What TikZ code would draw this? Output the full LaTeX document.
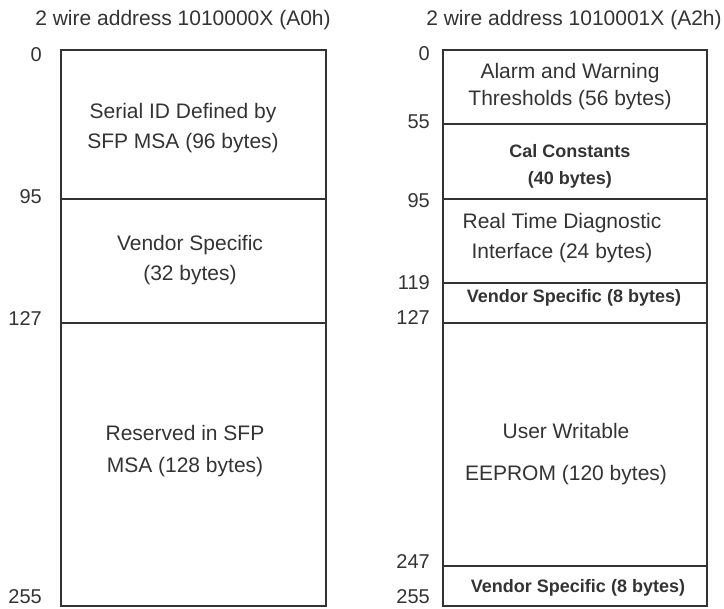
\documentclass[tikz,border=0pt]{standalone}
\usepackage{fontspec}
\setmainfont{Liberation Sans}
\definecolor{inkgray}{HTML}{333333}
\definecolor{txtgray}{HTML}{333333}
\begin{document}
\begin{tikzpicture}[x=1pt, y=-1pt, line width=1.8pt, color=inkgray, text=txtgray,
  area text/.style={align=center,font=\fontsize{21}{30}\selectfont},
  bold text/.style={align=center,font=\fontsize{18}{27}\selectfont\bfseries},
  offset/.style={anchor=east,font=\fontsize{20}{24}\selectfont},
  title/.style={font=\fontsize{21}{25}\selectfont}]
\useasboundingbox (0,0) rectangle (724,609);
% titles
\node [title](t0) at (183,20) {2 wire address 1010000X (A0h)};
\node [title](t2) at (574,20) {2 wire address 1010001X (A2h)};
% A0h map
\draw (61,50) rectangle (326,606);
\foreach \y in {199,323} \draw (61,\y) -- (326,\y);
\foreach \n/\y in {0/55,95/197,127/319,255/597}
  \node [offset](a0-\n) at (46,\y) {\n};
\node [area text](s1) at (183,128) {Serial ID Defined by\\SFP MSA (96 bytes)};
\node [area text](s2) at (190,260) {Vendor Specific\\(32 bytes)};
\node [area text](s3) at (185,451) {Reserved in SFP\\[2pt]MSA (128 bytes)};
% A2h map
\draw (443,50) rectangle (707,606);
\foreach \y in {124,199,283,323,566} \draw (443,\y) -- (707,\y);
\foreach \n/\y in {0/54,55/122,95/201,119/283,127/318,247/562,255/597}
  \node [offset](a2-\n) at (434,\y) {\n};
\node [area text](d1) at (570,87) {Alarm and Warning\\[-3pt]Thresholds (56 bytes)};
\node [bold text](d2) at (570,166) {Cal Constants\\(40 bytes)};
\node [area text](d3) at (562,238) {Real Time Diagnostic\\Interface (24 bytes)};
\node [bold text](d4) at (574,298) {Vendor Specific (8 bytes)};
\node [area text](d5) at (566,454) {User Writable\\[12pt]EEPROM (120 bytes)};
\node [bold text](d6) at (578,588) {Vendor Specific (8 bytes)};
\end{tikzpicture}
\end{document}
